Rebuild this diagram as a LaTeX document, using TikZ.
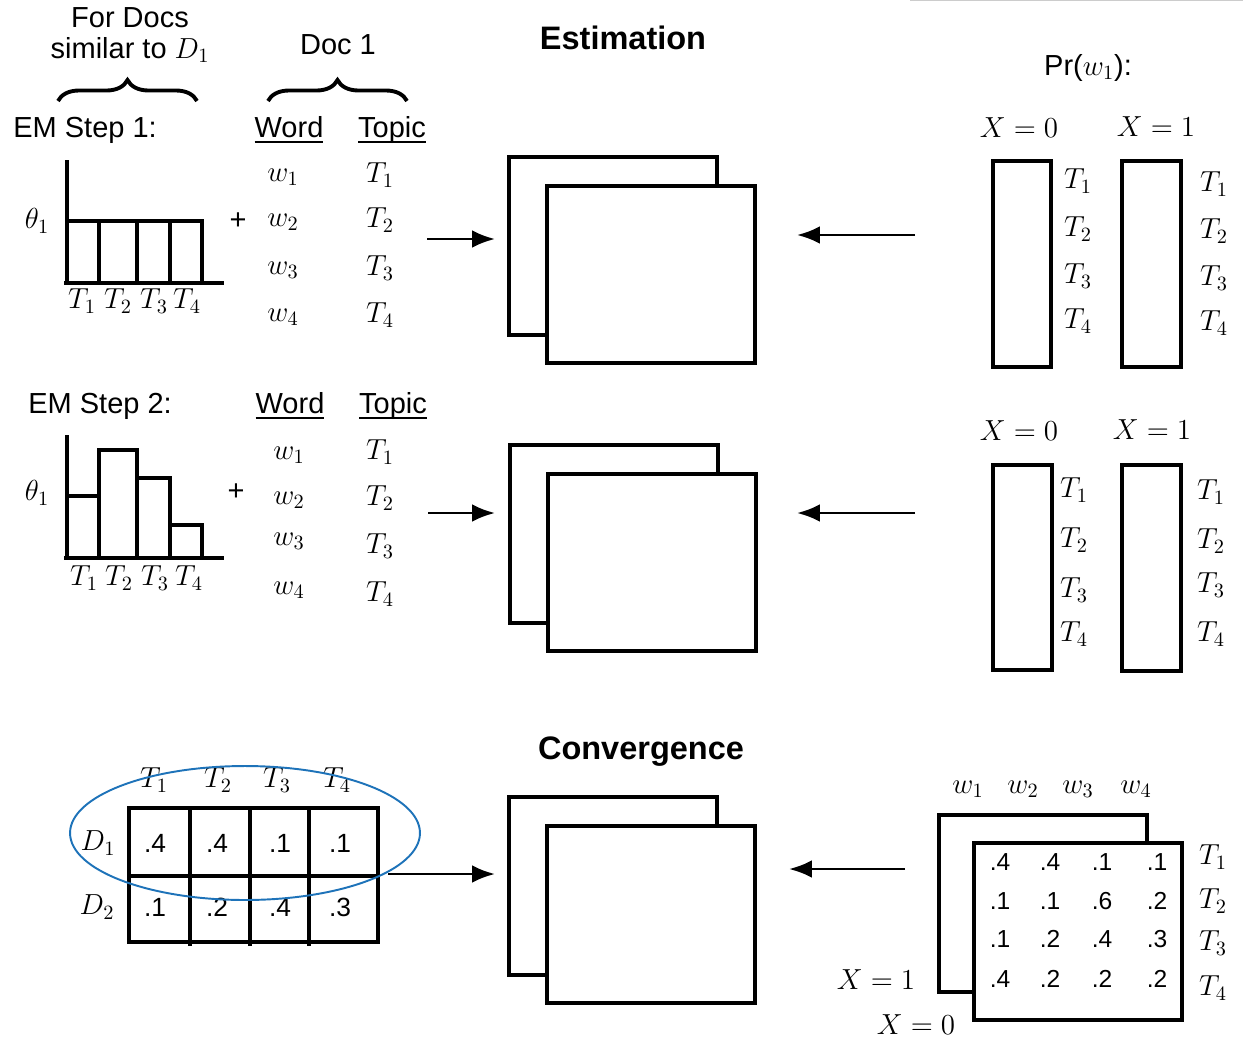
\RequirePackage{fix-cm}
\documentclass[tikz,border=0pt]{standalone}
\usepackage[no-math]{fontspec}
\setmainfont{Liberation Sans}
\usepackage{tikz}
\usetikzlibrary{arrows.meta, decorations.pathreplacing}
\definecolor{elc}{RGB}{30,115,185}
\tikzstyle{every node}=[inner sep=0pt, font=\fontsize{16.5}{19}\selectfont]
\tikzstyle{thk}=[line width=2pt]
\tikzstyle{arr}=[line width=1.6pt, -{Latex[length=13pt,width=10pt]}]
\tikzstyle{brc}=[line width=2.2pt, decorate, decoration={brace, amplitude=0.42cm}]
\tikzstyle{ttl}=[font=\fontsize{18.5}{22}\selectfont\bfseries]
\tikzstyle{val}=[font=\fontsize{15}{18}\selectfont]
\tikzstyle{sval}=[font=\fontsize{14}{17}\selectfont]
\newcommand{\ul}[1]{\setbox0\hbox{#1}\rlap{\rule[-3.2pt]{\wd0}{1.1pt}}\box0}

% back box at (#2,#3), front box shifted onto it
\newcommand{\docstack}[3]{%
  \draw[thk] (#2,#3) rectangle ++(208,178);
  \filldraw[thk, fill=white] (#2+38,#3+29) rectangle ++(208,177);
  \coordinate (#1) at (#2+142,#3+118);}

\begin{document}
\begin{tikzpicture}[x=0.02cm, y=-0.02cm]
\useasboundingbox (0,0) rectangle (1243,1038);
\draw[gray!40, line width=0.6pt] (910,0.5) -- (1243,0.5);

% headings
\node (for) at (130,18) {For Docs};
\node (sim) at (130,50) {similar to $D_1$};
\node (doc) at (338,45) {Doc 1};
\draw[brc] (58,101) -- (197,101);
\draw[brc] (268,101) -- (407,101);
\node[ttl] (est) at (623,38) {Estimation};
\node (pr) at (1088,68) {Pr($w_1$):};

% ---- EM step 1
\node[anchor=west] (em1) at (13,130) {EM Step 1:};
\node (wd1) at (289,130) {\ul{Word}};
\node (tp1) at (392,130) {\ul{Topic}};
\foreach \i/\y in {1/177,2/222,3/270,4/317} {
  \node (wa\i) at (283,\y) {$w_\i$};
  \node (ta\i) at (380,\y-2) {$T_\i$};
}
\draw[thk] (67,160) -- (67,283);
\draw[thk] (64,283) -- (224,283);
\foreach \a/\b/\h in {67/99/221, 99/137/221, 137/170/221, 170/202/221}
  \draw[thk] (\a,283) |- (\b,\h) -- (\b,283);
\foreach \i/\x in {1/82,2/118,3/154,4/187}
  \node (ha\i) at (\x,301) {$T_\i$};
\node (th1) at (37,221) {$\theta_1$};
\node (pl1) at (238,221) {+};
\coordinate (s1) at (427,239);
\coordinate (e1) at (495,239);
\draw[arr] (s1) -- (e1);
\docstack{st1}{509}{157}
\coordinate (s2) at (915,235);
\coordinate (e2) at (797,235);
\draw[arr] (s2) -- (e2);
\node (xa0) at (1019,128) {$X=0$};
\node (xa1) at (1156,127) {$X=1$};
\draw[thk] (993,161) rectangle (1051,367);
\draw[thk] (1122,161) rectangle (1181,367);
\foreach \i/\y/\z in {1/181/184,2/229/231,3/276/278,4/321/323} {
  \node (la\i) at (1078,\y) {$T_\i$};
  \node (ra\i) at (1214,\z) {$T_\i$};
}

% ---- EM step 2
\node[anchor=west] (em2) at (28,406) {EM Step 2:};
\node (wd2) at (290,406) {\ul{Word}};
\node (tp2) at (393,406) {\ul{Topic}};
\foreach \i/\y/\z in {1/455/452,2/500/498,3/541/546,4/590/594} {
  \node (wb\i) at (289,\y) {$w_\i$};
  \node (tb\i) at (380,\z) {$T_\i$};
}
\draw[thk] (67,435) -- (67,558);
\draw[thk] (64,558) -- (224,558);
\foreach \a/\b/\h in {67/99/496, 99/137/450, 137/170/478, 170/202/525}
  \draw[thk] (\a,558) |- (\b,\h) -- (\b,558);
\foreach \i/\x in {1/84,2/119,3/155,4/189}
  \node (hb\i) at (\x,578) {$T_\i$};
\node (th2) at (37,493) {$\theta_1$};
\node (pl2) at (236,492) {+};
\coordinate (s3) at (428,513);
\coordinate (e3) at (495,513);
\draw[arr] (s3) -- (e3);
\docstack{st2}{510}{445}
\coordinate (s4) at (915,513);
\coordinate (e4) at (797,513);
\draw[arr] (s4) -- (e4);
\node (xb0) at (1019,431) {$X=0$};
\node (xb1) at (1152,430) {$X=1$};
\draw[thk] (993,465) rectangle (1052,670);
\draw[thk] (1122,465) rectangle (1181,671);
\foreach \i/\y/\z in {1/490/492,2/540/541,3/590/585,4/634/634} {
  \node (lb\i) at (1074,\y) {$T_\i$};
  \node (rb\i) at (1211,\z) {$T_\i$};
}

% ---- convergence
\node[ttl] (conv) at (641,752) {Convergence};
\draw[thk] (129,808) rectangle (378,942);
\draw[thk] (129,876) -- (378,876);
\foreach \x in {190,250,309} \draw[thk] (\x,808) -- (\x,946);
\foreach \i/\x in {1/154,2/218,3/277,4/337}
  \node (hc\i) at (\x,780) {$T_\i$};
\node (d1) at (98,843) {$D_1$};
\node (d2) at (97,907) {$D_2$};
\foreach \x/\u/\v in {155/.4/.1, 217/.4/.2, 280/.1/.4, 340/.1/.3} {
  \node[val] at (\x,843) {\u};
  \node[val] at (\x,907) {\v};
}
\draw[elc, line width=1.1pt] (245,833) ellipse [x radius=3.5cm, y radius=1.34cm];
\coordinate (s5) at (388,874);
\coordinate (e5) at (495,874);
\draw[arr] (s5) -- (e5);
\docstack{st3}{509}{797}
\coordinate (s6) at (905,869);
\coordinate (e6) at (789,869);
\draw[arr] (s6) -- (e6);
\foreach \i/\x in {1/968,2/1023,3/1078,4/1136}
  \node (wc\i) at (\x,789) {$w_\i$};
\draw[thk] (939,815) rectangle (1147,992);
\filldraw[thk, fill=white] (974,843) rectangle (1182,1020);
\foreach \y/\a/\b/\c/\d in {862/.4/.4/.1/.1, 901/.1/.1/.6/.2, 939/.1/.2/.4/.3, 979/.4/.2/.2/.2} {
  \node[sval] at (1000,\y) {\a};
  \node[sval] at (1050,\y) {\b};
  \node[sval] at (1102,\y) {\c};
  \node[sval] at (1157,\y) {\d};
}
\foreach \i/\y in {1/857,2/901,3/943,4/988}
  \node (rc\i) at (1213,\y) {$T_\i$};
\node (xc1) at (876,980) {$X=1$};
\node (xc0) at (916,1025) {$X=0$};
\end{tikzpicture}
\end{document}
